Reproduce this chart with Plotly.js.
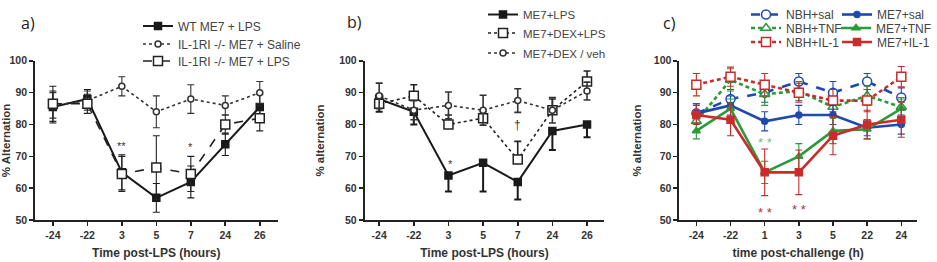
<!DOCTYPE html>
<html><head><meta charset="utf-8">
<script src="https://cdn.plot.ly/plotly-3.0.1.min.js"></script>
<style>html,body{margin:0;padding:0;background:#fff}#chart{width:937px;height:262px}</style>
</head><body><div id="chart"></div>
<script>
// ---------- data ----------
const xLabelsA = ['-24','-22','3','5','7','24','26'];
const xLabelsB = ['-24','-22','3','5','7','24','26'];
const xLabelsC = ['-24','-22','1','3','5','22','24'];
const yTicks = [50,60,70,80,90,100];

// panel a (symmetric SEM)
const wtLps = [85.5, 88, 65, 57, 62, 73.8, 85.5];
const wtLpsErr = [5, 3, 5.5, 4.5, 5, 3.5, 4];
const koSaline = [86, 87.5, 92, 84, 88, 86, 90];
const koSalineErr = [4, 3, 3, 5, 4.5, 3, 3.5];
const koLps = [86.5, 86.5, 64.5, 66.5, 64.5, 80, 82];
const koLpsErr = [5.5, 3, 5.5, 10, 5.5, 3, 4];

// panel b (ME7+LPS bars drawn downward only, ME7+DEX+LPS upward only)
const me7Lps = [88, 84, 64, 68, 62, 78, 80];
const me7LpsErrDown = [4, 4, 5, 9, 5.5, 6, 4];
const dexLps = [86.5, 89, 80, 82, 69, 84.5, 93.5];
const dexLpsErrUp = [3, 3.5, 3, 2, 5.7, 3.5, 3.3];
const dexVeh = [89, 84.5, 86, 84.5, 87.5, 84.5, 90.5];
const dexVehErr = [4, 3, 4.2, 4.7, 3.7, 4, 2.8];

// panel c (symmetric SEM)
const nbhSal = [83.5, 88, 90, 93.5, 90, 93.5, 88.5];
const nbhSalErr = [3, 3, 3, 2.5, 3.5, 2.5, 3];
const nbhTnf = [81, 94, 89.5, 90.5, 85.5, 89, 85.5];
const nbhTnfErr = [3, 3.5, 3.5, 3, 3, 3, 3];
const nbhIl1 = [92.5, 95, 92.5, 90, 87.5, 87.5, 95];
const nbhIl1Err = [3.5, 3, 3.5, 3, 3.5, 3.5, 3.2];
const me7Sal = [83.5, 86, 81, 83, 83, 79, 80];
const me7SalErr = [3, 3, 3, 3, 3, 2.5, 3];
const me7Tnf = [78, 85, 65, 70, 78, 78.5, 85];
const me7TnfErr = [2.5, 3, 3.5, 4, 4, 3, 3];
const me7Il1 = [83, 81.5, 65, 65, 76.5, 80, 81.5];
const me7Il1Err = [3, 5, 7.3, 7, 6, 4.5, 5.5];

// ---------- styling helpers ----------
const W = 937, H = 262;
const FONT = 'Liberation Sans, Arial, sans-serif';
const BLUE = '#1f49b0', GREEN = '#2b9a3b', RED = '#cc2b2b', BLK = '#1a1a1a';
const yDom = [1 - 220/H, 1 - 60/H];
const zeros = n => new Array(n).fill(0);

function tr(x, y, errUp, errDown, name, xa, ya, leg, color, dash, lw, sym, msize, mfill, ethick) {
  return {
    type: 'scatter', mode: 'lines+markers', x: x, y: y, name: name,
    xaxis: xa, yaxis: ya, legend: leg,
    line: {color: color, width: lw, dash: dash},
    marker: {symbol: sym, size: msize, color: mfill, line: {color: color, width: 1.5}},
    error_y: {type: 'data', symmetric: false, array: errUp, arrayminus: errDown, visible: true,
              color: color, thickness: ethick || 1.1, width: 3.5},
    cliponaxis: false
  };
}
function xax(dom, labels, range, title, anchor) {
  return {
    domain: [dom[0]/W, dom[1]/W], type: 'category', range: range,
    tickmode: 'array', tickvals: labels, ticktext: labels,
    showline: true, linecolor: '#222', linewidth: 1.8, mirror: false,
    ticks: 'outside', ticklen: 4, tickwidth: 1.6, tickcolor: '#222',
    showgrid: false, zeroline: false, automargin: false, anchor: anchor,
    tickfont: {family: FONT, size: 10.5, color: '#333', weight: 'bold'},
    title: {text: title, standoff: 9, font: {family: FONT, size: 12, color: '#333', weight: 'bold'}}
  };
}
function yax(title, anchor, standoff) {
  return {
    domain: yDom, range: [50, 100], tickmode: 'array', tickvals: yTicks,
    showline: true, linecolor: '#222', linewidth: 1.8,
    ticks: 'outside', ticklen: 4, tickwidth: 1.6, tickcolor: '#222',
    showgrid: false, zeroline: false, automargin: false, anchor: anchor,
    tickfont: {family: FONT, size: 10.5, color: '#333', weight: 'bold'},
    title: {text: title, standoff: standoff, font: {family: FONT, size: 11.5, color: '#333', weight: 'bold'}}
  };
}
// one legend box per entry, centred on a given row (pixels), text starting at textX
function legend(textX, rowY, size) {
  return {x: (textX - 40)/W, y: 1 - rowY/H, xanchor: 'left', yanchor: 'middle',
    bgcolor: 'rgba(0,0,0,0)', font: {family: FONT, size: size, color: '#444'},
    traceorder: 'normal', tracegroupgap: 0, itemwidth: 30};
}

const data = [
  tr(xLabelsA, wtLps, wtLpsErr, wtLpsErr, 'WT ME7 + LPS', 'x', 'y', 'legend', BLK, 'solid', 2, 'square', 7, BLK),
  tr(xLabelsA, koSaline, koSalineErr, koSalineErr, 'IL-1RI -/- ME7 + Saline', 'x', 'y', 'legend2', '#333', 'dot', 1.6, 'circle', 6, '#fff'),
  tr(xLabelsA, koLps, koLpsErr, koLpsErr, 'IL-1RI -/- ME7 + LPS', 'x', 'y', 'legend3', '#222', 'dash', 1.6, 'square', 9, '#fff'),

  tr(xLabelsB, me7Lps, zeros(me7Lps.length), me7LpsErrDown, 'ME7+LPS', 'x2', 'y2', 'legend4', BLK, 'solid', 2, 'square', 7, BLK, 2),
  tr(xLabelsB, dexLps, dexLpsErrUp, zeros(dexLps.length), 'ME7+DEX+LPS', 'x2', 'y2', 'legend5', '#222', 'dot', 1.6, 'square', 9, '#fff', 1.6),
  tr(xLabelsB, dexVeh, dexVehErr, dexVehErr, 'ME7+DEX / veh', 'x2', 'y2', 'legend6', '#333', 'dot', 1.6, 'circle', 6, '#fff', 1.6),

  tr(xLabelsC, nbhSal, nbhSalErr, nbhSalErr, 'NBH+sal', 'x3', 'y3', 'legend7', BLUE, 'dash', 2.6, 'circle', 9, '#fff'),
  tr(xLabelsC, nbhTnf, nbhTnfErr, nbhTnfErr, 'NBH+TNF', 'x3', 'y3', 'legend8', GREEN, '4px,3px', 2.6, 'triangle-up', 9, '#fff'),
  tr(xLabelsC, nbhIl1, nbhIl1Err, nbhIl1Err, 'NBH+IL-1', 'x3', 'y3', 'legend9', RED, '4px,3px', 2.6, 'square', 9, '#fff'),
  tr(xLabelsC, me7Sal, me7SalErr, me7SalErr, 'ME7+sal', 'x3', 'y3', 'legend10', BLUE, 'solid', 2.6, 'circle', 6, BLUE),
  tr(xLabelsC, me7Tnf, me7TnfErr, me7TnfErr, 'ME7+TNF', 'x3', 'y3', 'legend11', GREEN, 'solid', 2.6, 'triangle-up', 7, GREEN),
  tr(xLabelsC, me7Il1, me7Il1Err, me7Il1Err, 'ME7+IL-1', 'x3', 'y3', 'legend12', RED, 'solid', 2.6, 'square', 7, RED)
];

function star(text, xa, ya, idx, y, color, size) {
  return {text: text, xref: xa, yref: ya, x: idx, y: y, showarrow: false,
    font: {family: FONT, size: size, color: color}};
}
function panelLabel(text, xpx, ypx) {
  return {text: text, xref: 'paper', yref: 'paper', x: xpx/W, y: 1 - ypx/H,
    xanchor: 'center', yanchor: 'middle', showarrow: false,
    font: {family: 'Open Sans, sans-serif', size: 16, color: '#222'}};
}

const layout = {
  width: W, height: H, margin: {l: 0, r: 0, t: 0, b: 0},
  paper_bgcolor: '#fff', plot_bgcolor: '#fff', showlegend: true,
  xaxis: xax([35, 278], xLabelsA, [-0.52, 6.52], 'Time post-LPS (hours)', 'y'),
  yaxis: yax('% Alternation', 'x', 3),
  xaxis2: xax([365, 605], xLabelsB, [-0.42, 6.5], 'Time post-LPS (hours)', 'y2'),
  yaxis2: yax('% alternation', 'x2', 12),
  xaxis3: xax([680, 918], xLabelsC, [-0.5, 6.46], 'time post-challenge (h)', 'y3'),
  yaxis3: yax('% alternation', 'x3', 10),
  legend:  legend(178, 26, 12),
  legend2: legend(178, 44, 12),
  legend3: legend(178, 61, 12),
  legend4: legend(523, 14, 11.5),
  legend5: legend(523, 33, 11.5),
  legend6: legend(523, 53, 11.5),
  legend7: legend(786, 14, 12),
  legend8: legend(786, 28, 12),
  legend9: legend(786, 42, 12),
  legend10: legend(877, 14, 12),
  legend11: legend(877, 28, 12),
  legend12: legend(877, 42, 12),
  annotations: [
    panelLabel('a)', 28, 22), panelLabel('b)', 355, 21), panelLabel('c)', 670, 22),
    star('**', 'x', 'y', xLabelsA.indexOf('3'), 73.2, '#333', 11),
    star('*', 'x', 'y', xLabelsA.indexOf('7'), 72.8, '#333', 11),
    star('*', 'x2', 'y2', xLabelsB.indexOf('3') + 0.05, 67.5, '#333', 11),
    star('†', 'x2', 'y2', xLabelsB.indexOf('7'), 80, '#333', 12),
    star('* *', 'x3', 'y3', xLabelsC.indexOf('1'), 74.3, '#6cbf88', 13),
    star('* *', 'x3', 'y3', xLabelsC.indexOf('1'), 52.3, '#a8344c', 13),
    star('* *', 'x3', 'y3', xLabelsC.indexOf('3'), 53.2, '#a8344c', 13)
  ]
};

Plotly.newPlot('chart', data, layout, {displayModeBar: false, staticPlot: true});
</script></body></html>
